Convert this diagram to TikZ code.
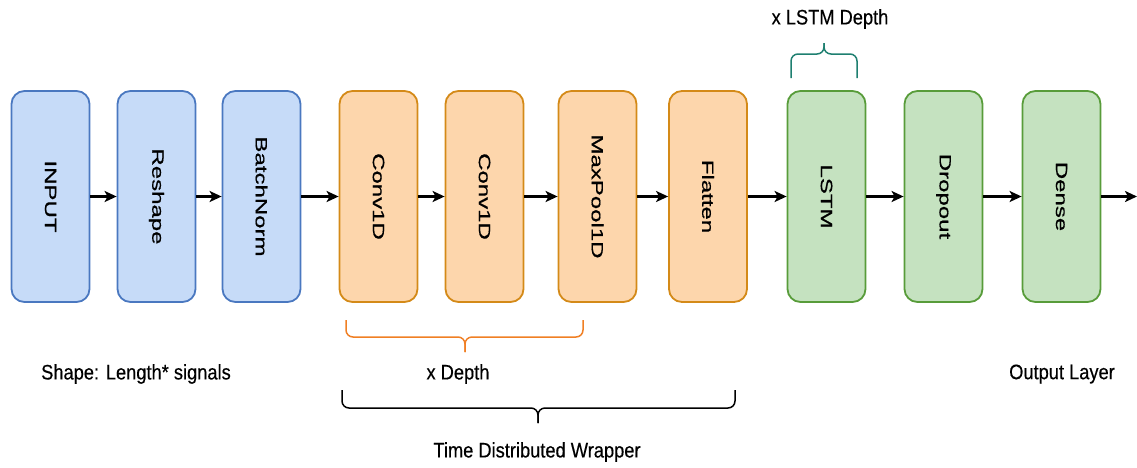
\documentclass[tikz,border=0pt]{standalone}
\usepackage{fontspec}
\setmainfont{Liberation Sans}
\usetikzlibrary{arrows.meta}
\definecolor{bfill}{HTML}{C6DBF8}
\definecolor{bdraw}{HTML}{4A78C0}
\definecolor{ofill}{HTML}{FDD6AC}
\definecolor{odraw}{HTML}{D48A18}
\definecolor{gfill}{HTML}{C5E2C0}
\definecolor{gdraw}{HTML}{589C3A}
\definecolor{obrace}{HTML}{F07F24}
\definecolor{tbrace}{HTML}{1E7F70}
\newcommand{\boxtxt}[1]{\scalebox{1}[0.68]{\fontsize{24}{28}\selectfont\addfontfeature{FakeBold=0.6}#1}}
\newcommand{\lbltxt}[1]{\scalebox{0.87}[1]{\fontsize{21}{25}\selectfont\addfontfeature{FakeBold=0.4}#1}}
\tikzset{
  layer/.style={draw, line width=1.8pt, rounded corners=13pt, rotate=-90,
    minimum width=211pt, minimum height=78pt, inner sep=0pt},
  blue/.style={layer, fill=bfill, draw=bdraw},
  orange/.style={layer, fill=ofill, draw=odraw},
  green/.style={layer, fill=gfill, draw=gdraw},
  conn/.style={line width=2.2pt, -{Stealth[length=12pt,width=11pt,inset=3pt]}},
  lbl/.style={inner sep=0pt},
  brace/.style={line width=1.5pt, rounded corners=7pt}
}
\begin{document}
\begin{tikzpicture}[x=1pt,y=-1pt]
\useasboundingbox (0,0) rectangle (1137,467);
\node[blue] (input) at (50.5,196.5) {\boxtxt{INPUT}};
\node[blue] (reshape) at (156.5,196.5) {\boxtxt{Reshape}};
\node[blue] (bn) at (261.5,196.5) {\boxtxt{BatchNorm}};
\node[orange] (conv1) at (378.5,196.5) {\boxtxt{Conv1D}};
\node[orange] (conv2) at (484.5,196.5) {\boxtxt{Conv1D}};
\node[orange] (pool) at (597.5,196.5) {\boxtxt{MaxPool1D}};
\node[orange] (flat) at (708,196.5) {\boxtxt{Flatten}};
\node[green] (lstm) at (826.5,196.5) {\boxtxt{LSTM}};
\node[green] (drop) at (943.5,196.5) {\boxtxt{Dropout}};
\node[green] (dense) at (1061.5,196.5) {\boxtxt{Dense}};
\coordinate (out) at (1137,196.5);

\draw[conn] (input) -- (reshape);
\draw[conn] (reshape) -- (bn);
\draw[conn] (bn) -- (conv1);
\draw[conn] (conv1) -- (conv2);
\draw[conn] (conv2) -- (pool);
\draw[conn] (pool) -- (flat);
\draw[conn] (flat) -- (lstm);
\draw[conn] (lstm) -- (drop);
\draw[conn] (drop) -- (dense);
\draw[conn] (dense) -- (out);

% LSTM brace (above)
\draw[brace, draw=tbrace] (791,78) -- (791,54) -- (824,54) -- (824,43);
\draw[brace, draw=tbrace] (857,78) -- (857,54) -- (824,54) -- (824,43);
\node[lbl] (lstmdepth) at (830,19) {\lbltxt{x LSTM Depth}};

% orange brace
\draw[brace, draw=obrace] (346,320) -- (346,337) -- (465,337) -- (465,352);
\draw[brace, draw=obrace] (583,320) -- (583,337) -- (465,337) -- (465,352);
\node[lbl] (xdepth) at (458,374) {\lbltxt{x Depth}};

% black brace
\draw[brace] (342,390) -- (342,408) -- (538,408) -- (538,423);
\draw[brace] (735,390) -- (735,408) -- (538,408) -- (538,423);
\node[lbl] (tdw) at (537,452) {\lbltxt{Time Distributed Wrapper}};

\node[lbl] (shape) at (136,374) {\lbltxt{Shape: Length* signals}};
\node[lbl] (outl) at (1062,374) {\lbltxt{Output Layer}};
\end{tikzpicture}
\end{document}
